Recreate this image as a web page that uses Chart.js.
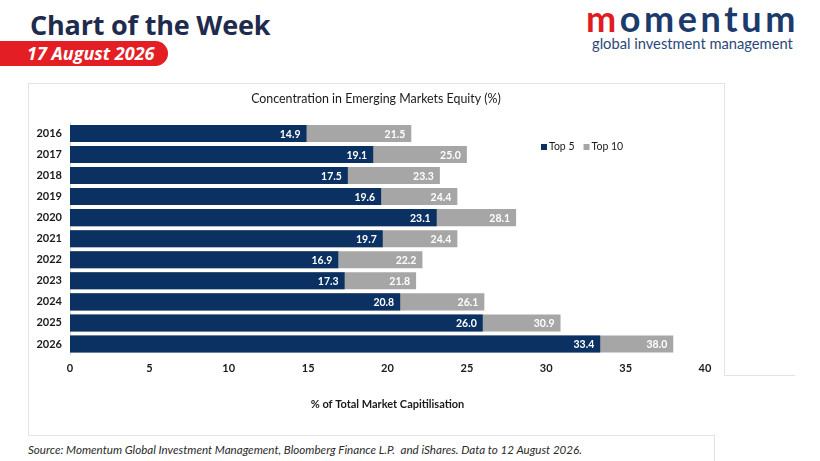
<!DOCTYPE html>
<html>
<head>
<meta charset="utf-8">
<script src="https://cdn.jsdelivr.net/npm/chart.js@4.4.1/dist/chart.umd.min.js"></script>
<style>
  body { margin: 0; background: #fff; width: 820px; height: 461px; overflow: hidden; position: relative; font-family: "Open Sans", sans-serif; }
  .abs { position: absolute; white-space: nowrap; }
  .line { position: absolute; background: #e3e3e3; }
  #head { left: 30px; top: 6px; font-size: 27px; font-weight: 700; color: #1e2b4d; letter-spacing: -0.2px; }
  #pill { left: 0; top: 41px; width: 168px; height: 25px; background: #e31e24; border-radius: 0 13px 13px 0; }
  #date { left: 27px; top: 41px; font-size: 18px; line-height: 25px; font-weight: 700; font-style: italic; color: #fff; }
  #logo { left: 586px; top: -4px; font-size: 36px; font-weight: 700; color: #1c3a6c; letter-spacing: 3.6px; font-family: "Lato", sans-serif; }
  #logo span { color: #e11b22; }
  #logosub { left: 592px; top: 34px; font-size: 14.7px; color: #2b4878; font-family: "Lato", sans-serif; }
  #source { left: 28px; top: 443px; font-size: 11.6px; font-style: italic; color: #2a2a2a; font-family: "Lato", sans-serif; }
  #wrap { left: 28px; top: 84px; width: 696px; height: 345px; }
</style>
</head>
<body>
<div class="abs" id="head">Chart of the Week</div>
<div class="abs" id="pill"></div>
<div class="abs" id="date">17 August 2026</div>
<div class="abs" id="logo"><span>m</span>omentum</div>
<div class="abs" id="logosub">global investment management</div>

<div class="line" style="left:28px;top:83px;width:1px;height:352px"></div>
<div class="line" style="left:28px;top:83px;width:696px;height:1px"></div>
<div class="line" style="left:724px;top:83px;width:1px;height:292px"></div>
<div class="line" style="left:724px;top:375px;width:71px;height:1px"></div>
<div class="line" style="left:28px;top:435px;width:686px;height:1px"></div>
<div class="line" style="left:714px;top:435px;width:1px;height:26px"></div>

<div class="abs" id="wrap"><canvas id="chart"></canvas></div>
<div class="abs" id="source">Source: Momentum Global Investment Management, Bloomberg Finance L.P.&nbsp; and iShares. Data to 12 August 2026.</div>

<script>
let years = ['2016', '2017', '2018', '2019', '2020', '2021', '2022', '2023', '2024', '2025', '2026'];
let top5 = [14.9, 19.1, 17.5, 19.6, 23.1, 19.7, 16.9, 17.3, 20.8, 26.0, 33.4];
let top10 = [21.5, 25.0, 23.3, 24.4, 28.1, 24.4, 22.2, 21.8, 26.1, 30.9, 38.0];
let xTicks = [0, 5, 10, 15, 20, 25, 30, 35, 40];

let navy = '#0b3162';
let grey = '#a6a6a6';

// value labels at the end of each bar, inside
let barLabels = {
    id: 'barLabels',
    afterDatasetsDraw(chart) {
        let ctx = chart.ctx;
        ctx.save();
        ctx.font = 'bold 10.5px Lato';
        ctx.fillStyle = '#ffffff';
        ctx.textAlign = 'right';
        ctx.textBaseline = 'middle';
        chart.data.datasets.forEach(function (ds, i) {
            chart.getDatasetMeta(i).data.forEach(function (bar, j) {
                ctx.fillText(ds.data[j].toFixed(1), bar.x - 6, bar.y + 1);
            });
        });
        ctx.restore();
    }
};

// legend drawn inside the plot, right of the bars
let innerLegend = {
    id: 'innerLegend',
    afterDraw(chart) {
        let ctx = chart.ctx;
        let x = 513, y = 63;
        ctx.save();
        ctx.font = '10.5px Lato';
        ctx.textBaseline = 'middle';
        chart.data.datasets.forEach(function (ds) {
            ctx.fillStyle = ds.backgroundColor;
            ctx.fillRect(x, y - 3, 6, 6);
            ctx.fillStyle = '#1a1a1a';
            ctx.fillText(ds.label, x + 8, y);
            x += 8 + ctx.measureText(ds.label).width + 9;
        });
        ctx.restore();
    }
};

new Chart(document.getElementById('chart'), {
    type: 'bar',
    data: {
        labels: years,
        datasets: [{
            label: 'Top 5',
            data: top5,
            backgroundColor: navy,
            barPercentage: 0.81,
            categoryPercentage: 1
        }, {
            label: 'Top 10',
            data: top10,
            backgroundColor: grey,
            barPercentage: 0.81,
            categoryPercentage: 1
        }]
    },
    options: {
        indexAxis: 'y',
        responsive: true,
        maintainAspectRatio: false,
        animation: false,
        layout: { padding: 0 },
        scales: {
            y: {
                stacked: true,
                grid: { display: false, drawTicks: false },
                border: { display: true, color: '#d9d9d9' },
                afterFit: function (s) { s.width = 42; },
                ticks: {
                    padding: 8,
                    color: '#1a1a1a',
                    font: { family: 'Lato', size: 11, weight: 'bold' }
                }
            },
            // empty right-hand axis, only keeps room after the 40 tick
            yRight: {
                type: 'linear',
                position: 'right',
                grid: { display: false, drawTicks: false },
                border: { display: false },
                ticks: { display: false },
                afterFit: function (s) { s.width = 19; }
            },
            x: {
                min: 0,
                max: 40,
                afterBuildTicks: function (s) { s.ticks = xTicks.map(function (v) { return { value: v }; }); },
                afterFit: function (s) { s.height = 74.5; },
                grid: { display: false, drawTicks: false },
                border: { display: false },
                ticks: {
                    padding: 7,
                    color: '#1a1a1a',
                    font: { family: 'Lato', size: 11, weight: 'bold' }
                },
                title: {
                    display: true,
                    text: '% of Total Market Capitilisation',
                    color: '#1a1a1a',
                    font: { family: 'Lato', size: 11, weight: 'bold' },
                    padding: { top: 22, bottom: 18 }
                }
            }
        },
        plugins: {
            legend: { display: false },
            tooltip: { enabled: false },
            title: {
                display: true,
                text: 'Concentration in Emerging Markets Equity (%)',
                color: '#1a1a1a',
                font: { family: 'Lato', size: 12.4, weight: 'normal' },
                padding: { top: 8, bottom: 16 }
            }
        }
    },
    plugins: [barLabels, innerLegend]
});
</script>
</body>
</html>
